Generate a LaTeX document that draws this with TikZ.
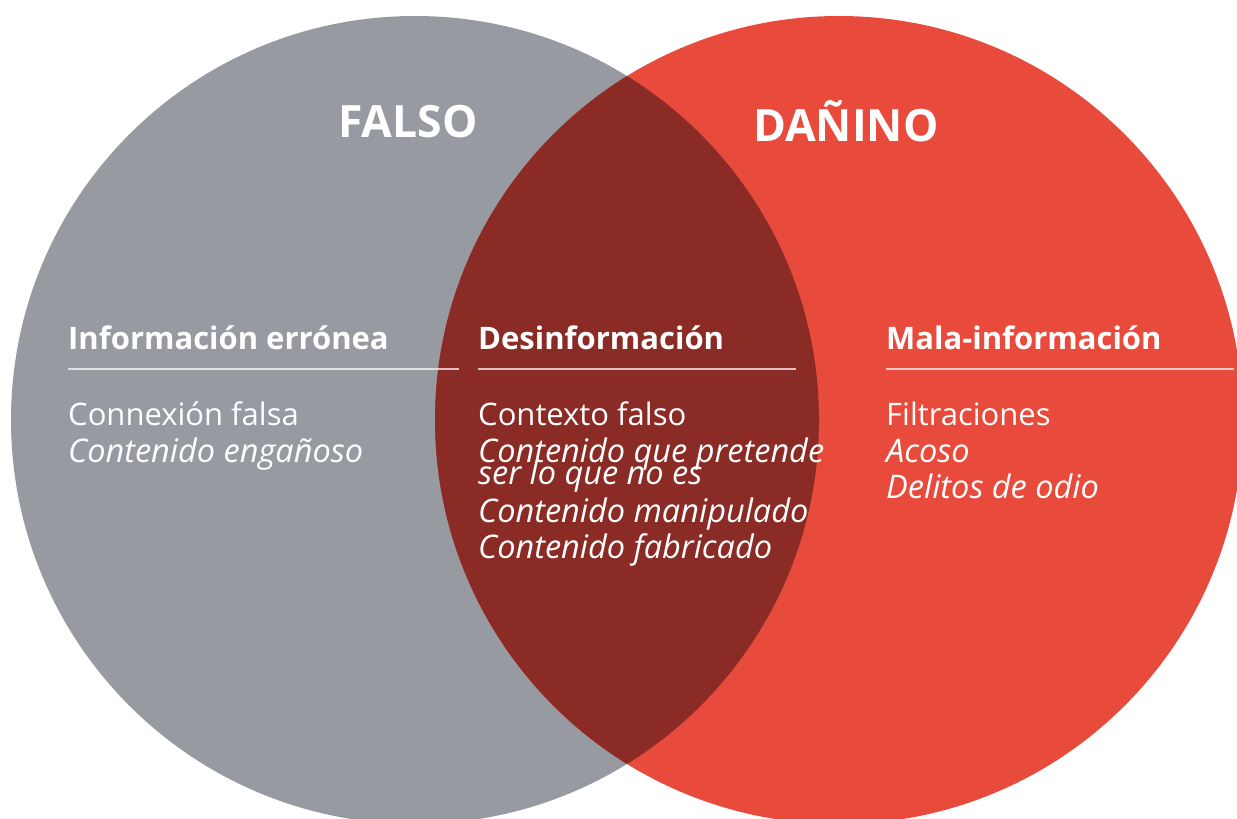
\documentclass[tikz,border=0pt]{standalone}
\usepackage{fontspec}
\setmainfont{Open Sans}
\definecolor{cgray}{HTML}{979AA0}
\definecolor{cred}{HTML}{E84B3C}
\definecolor{cdark}{HTML}{8A2B26}
\begin{document}
\begin{tikzpicture}[x=1pt,y=-1pt,
  title/.style={text=white,inner sep=0pt,anchor=base west,font=\fontsize{44.5}{44.5}\selectfont\bfseries},
  head/.style={text=white,inner sep=0pt,anchor=base west,font=\fontsize{31}{31}\selectfont\bfseries},
  body/.style={text=white,inner sep=0pt,anchor=base west,font=\fontsize{31}{31}\selectfont},
  ibody/.style={body,font=\fontsize{32.5}{32.5}\selectfont\itshape},
  rule/.style={draw=white,draw opacity=0.7,line width=1.2pt}]
\useasboundingbox (0,0) rectangle (1237,819);
\clip (0,0) rectangle (1237,819);
\fill[cgray] (415,420) circle[radius=404pt];
\fill[cred] (839,420) circle[radius=404pt];
\begin{scope}
\clip (415,420) circle[radius=404pt];
\fill[cdark] (839,420) circle[radius=404pt];
\end{scope}
% titles
\node[title] (falso) at (338,137) {FALSO};
\node[title] (danino) at (753,141) {DAÑINO};
% headings
\node[head] (h1) at (68,349) {Información errónea};
\node[head] (h2) at (478,349) {Desinformación};
\node[head] (h3) at (886,349) {Mala-información};
\draw[rule] (68,369) -- (459,369);
\draw[rule] (478,369) -- (796,369);
\draw[rule] (886,369) -- (1234,369);
% left
\node[body] (l1) at (68,425) {Connexión falsa};
\node[ibody] (l2) at (68,462) {Contenido engañoso};
% middle
\node[body] (m1) at (478,425) {Contexto falso};
\node[ibody] (m2) at (478,462) {Contenido que pretende};
\node[ibody] (m3) at (478,484) {ser lo que no es};
\node[ibody] (m4) at (478,522) {Contenido manipulado};
\node[ibody] (m5) at (478,558) {Contenido fabricado};
% right
\node[body] (r1) at (886,425) {Filtraciones};
\node[ibody] (r2) at (886,462) {Acoso};
\node[ibody] (r3) at (886,498) {Delitos de odio};
\end{tikzpicture}
\end{document}
